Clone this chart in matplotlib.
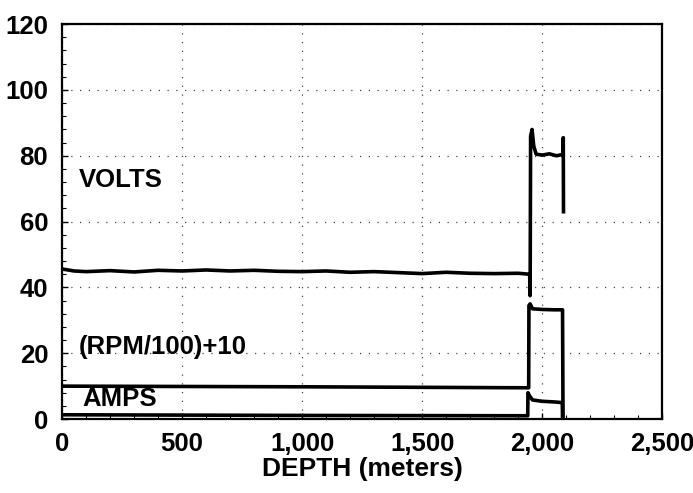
import matplotlib
matplotlib.use("Agg")
import matplotlib.pyplot as plt
from matplotlib.ticker import MultipleLocator, FuncFormatter

plt.rcParams['font.family'] = ['Liberation Sans', 'DejaVu Sans']

# Data
volts_depth = [0, 50, 100, 200, 300, 400, 500, 600, 700, 800, 900, 1000, 1100, 1200,
               1300, 1400, 1500, 1600, 1700, 1800, 1900, 1948, 1950, 1952, 1958, 1965,
               1975, 2000, 2030, 2060, 2084, 2087, 2088, 2089]
volts_vals = [45.6, 45.0, 44.8, 45.1, 44.7, 45.2, 45.0, 45.3, 45.0, 45.2, 44.9, 44.8,
              45.0, 44.6, 44.8, 44.5, 44.2, 44.6, 44.3, 44.2, 44.3, 44.0, 37.5, 86.0,
              88.0, 83.0, 80.5, 80.2, 80.6, 80.0, 80.4, 80.5, 85.5, 63.0]

rpm_depth = [0, 1000, 1944, 1945, 1950, 1960, 2000, 2050, 2085, 2087]
rpm_vals = [10.0, 9.8, 9.5, 34.5, 35.0, 33.5, 33.3, 33.2, 33.2, 0.0]

amps_depth = [0, 1000, 1940, 1941, 1948, 1960, 2000, 2050, 2084, 2085]
amps_vals = [1.3, 1.1, 1.0, 8.0, 7.0, 5.8, 5.4, 5.2, 5.0, 0.0]

labels = ["VOLTS", "(RPM/100)+10", "AMPS"]
label_pos = [(70, 72.5), (70, 22.0), (85, 6.0)]

fig = plt.figure(figsize=(6.93, 4.93), dpi=100)
ax = fig.add_axes([0.0895, 0.15, 0.866, 0.801])

for d, v in [(volts_depth, volts_vals), (rpm_depth, rpm_vals), (amps_depth, amps_vals)]:
    ax.plot(d, v, color='black', linewidth=2.6, solid_joinstyle='round')

for txt, (x, y) in zip(labels, label_pos):
    ax.text(x, y, txt, fontsize=18.5, fontweight='bold', va='center', ha='left')

ax.set_xlim(0, 2500)
ax.set_ylim(0, 120)
ax.xaxis.set_major_locator(MultipleLocator(500))
ax.xaxis.set_minor_locator(MultipleLocator(100))
ax.yaxis.set_major_locator(MultipleLocator(20))
ax.yaxis.set_minor_locator(MultipleLocator(4))
ax.xaxis.set_major_formatter(FuncFormatter(lambda v, p: f"{int(v):,}"))

ax.tick_params(which='both', direction='in', top=False, right=False)
ax.tick_params(which='major', length=4, width=1, labelsize=18.5)
ax.tick_params(axis='x', which='major', pad=9)
ax.tick_params(axis='y', which='major', pad=10)
ax.tick_params(which='minor', length=3, width=0.8)
for lab in ax.get_xticklabels() + ax.get_yticklabels():
    lab.set_fontweight('bold')

ax.grid(True, which='major', color='#444444', linestyle=(0, (1, 6)), linewidth=0.9)
for s in ax.spines.values():
    s.set_linewidth(1.6)

ax.set_xlabel("DEPTH (meters)", fontsize=19, fontweight='bold', labelpad=1)

fig.savefig("out.png", dpi=100)
